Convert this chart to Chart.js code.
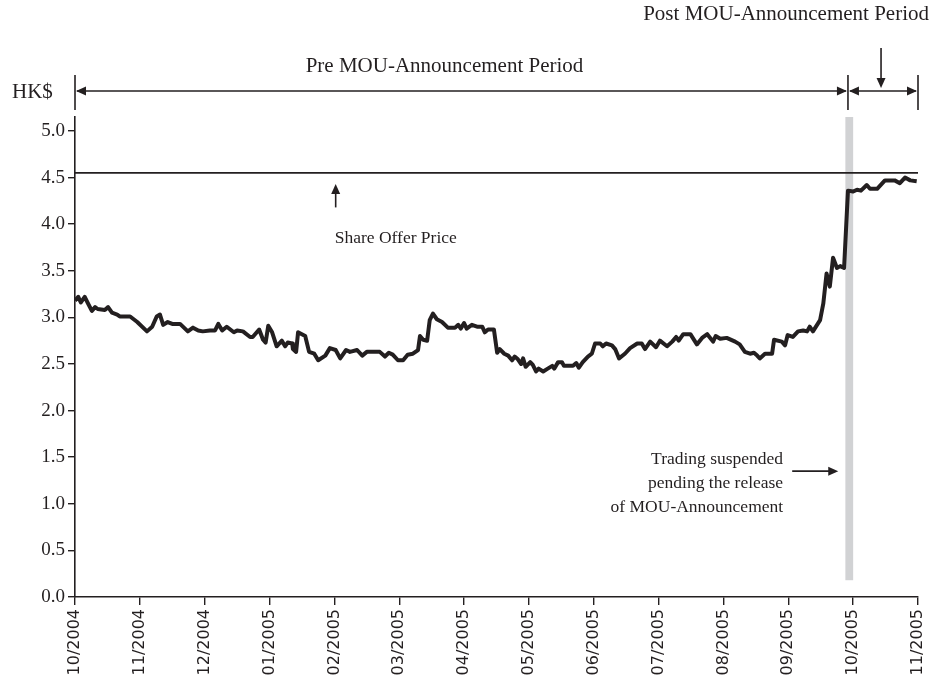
<!DOCTYPE html>
<html>
<head>
<meta charset="utf-8">
<script src="https://cdn.jsdelivr.net/npm/chart.js@4/dist/chart.umd.min.js"></script>
<style>
  body { margin: 0; background: #fff; }
  #wrap { width: 935px; height: 681px; position: relative; }
</style>
</head>
<body>
<div id="wrap"><canvas id="grafico"></canvas></div>
<script>
// month offsets since 10/2004 (0 = 10/2004, 13 = 11/2005)
const months = [
  0.00, 0.05, 0.09, 0.15, 0.20, 0.26, 0.31, 0.35, 0.46, 0.51, 0.57, 0.65, 0.69, 0.85, 0.96,
  1.11, 1.19, 1.26, 1.31, 1.36, 1.43, 1.50, 1.62, 1.74, 1.82, 1.90, 1.97,
  2.08, 2.16, 2.21, 2.27, 2.34, 2.45, 2.50, 2.59, 2.70, 2.74, 2.84, 2.90, 2.94, 2.98,
  3.04, 3.11, 3.19, 3.24, 3.28, 3.35, 3.36, 3.41, 3.44, 3.55, 3.61, 3.69, 3.75, 3.86, 3.93,
  4.02, 4.09, 4.18, 4.24, 4.35, 4.43, 4.50, 4.70, 4.78, 4.84, 4.90, 4.98,
  5.06, 5.13, 5.21, 5.29, 5.32, 5.37, 5.43, 5.47, 5.52, 5.58, 5.66, 5.75, 5.86, 5.91, 5.95,
  6.00, 6.04, 6.12, 6.20, 6.28, 6.32, 6.37, 6.46, 6.51, 6.55, 6.62, 6.68, 6.74, 6.78, 6.83, 6.88, 6.91, 6.95,
  7.02, 7.06, 7.11, 7.15, 7.22, 7.29, 7.36, 7.39, 7.45, 7.51, 7.54, 7.68, 7.73, 7.77, 7.83, 7.91, 7.97,
  8.02, 8.10, 8.14, 8.19, 8.28, 8.33, 8.39, 8.48, 8.56, 8.67, 8.74, 8.79, 8.87, 8.96,
  9.02, 9.13, 9.21, 9.27, 9.31, 9.38, 9.49, 9.59, 9.67, 9.75, 9.84, 9.88, 9.95,
  10.05, 10.18, 10.25, 10.33, 10.41, 10.47, 10.52, 10.56, 10.64, 10.75, 10.78, 10.90, 10.95, 10.99,
  11.07, 11.15, 11.23, 11.29, 11.33, 11.38, 11.49, 11.54, 11.59, 11.64, 11.69, 11.75, 11.80, 11.86, 11.92,
  12.00, 12.06, 12.12, 12.21, 12.26, 12.37, 12.49, 12.64, 12.72, 12.80, 12.88, 12.98
];

// share price, HK$
const prices = [
  3.18, 3.22, 3.16, 3.22, 3.15, 3.07, 3.11, 3.09, 3.08, 3.11, 3.05, 3.03, 3.01, 3.01, 2.95,
  2.85, 2.90, 3.01, 3.03, 2.92, 2.95, 2.93, 2.93, 2.85, 2.89, 2.86, 2.85,
  2.86, 2.86, 2.93, 2.86, 2.90, 2.84, 2.86, 2.85, 2.79, 2.79, 2.87, 2.76, 2.73, 2.91,
  2.84, 2.69, 2.75, 2.69, 2.73, 2.72, 2.66, 2.63, 2.84, 2.80, 2.63, 2.61, 2.54, 2.59, 2.67,
  2.65, 2.56, 2.65, 2.63, 2.65, 2.59, 2.63, 2.63, 2.58, 2.62, 2.60, 2.54,
  2.54, 2.60, 2.61, 2.65, 2.80, 2.76, 2.75, 2.97, 3.04, 2.98, 2.95, 2.89, 2.89, 2.92, 2.88,
  2.94, 2.88, 2.92, 2.90, 2.90, 2.84, 2.87, 2.87, 2.62, 2.66, 2.61, 2.59, 2.54, 2.58, 2.55, 2.50, 2.56, 2.47,
  2.52, 2.49, 2.42, 2.45, 2.42, 2.45, 2.48, 2.45, 2.52, 2.52, 2.48, 2.48, 2.51, 2.46, 2.52, 2.58, 2.61,
  2.72, 2.72, 2.69, 2.72, 2.70, 2.66, 2.56, 2.61, 2.67, 2.72, 2.72, 2.66, 2.74, 2.68,
  2.75, 2.69, 2.74, 2.79, 2.75, 2.82, 2.82, 2.71, 2.78, 2.82, 2.74, 2.80, 2.77,
  2.78, 2.74, 2.71, 2.63, 2.61, 2.62, 2.59, 2.56, 2.61, 2.61, 2.76, 2.74, 2.70, 2.81,
  2.79, 2.85, 2.86, 2.85, 2.90, 2.85, 2.97, 3.15, 3.47, 3.33, 3.64, 3.53, 3.55, 3.53, 4.36,
  4.35, 4.37, 4.36, 4.42, 4.38, 4.38, 4.47, 4.47, 4.44, 4.50, 4.47, 4.46
];

const offerPrice = 4.55;

const tickLabels = [
  "10/2004", "11/2004", "12/2004", "01/2005", "02/2005", "03/2005", "04/2005",
  "05/2005", "06/2005", "07/2005", "08/2005", "09/2005", "10/2005", "11/2005"
];

const INK = "#231f20";
const SERIF = "'Liberation Serif', 'Times New Roman', serif";

function flecha(ctx, x, y, ang) {
  // filled arrow head with its tip at (x, y), pointing along ang
  const largo = 10, ancho = 4.5;
  ctx.save();
  ctx.translate(x, y);
  ctx.rotate(ang);
  ctx.beginPath();
  ctx.moveTo(0, 0);
  ctx.lineTo(-largo, -ancho);
  ctx.lineTo(-largo, ancho);
  ctx.closePath();
  ctx.fill();
  ctx.restore();
}

function linea(ctx, x1, y1, x2, y2) {
  ctx.beginPath();
  ctx.moveTo(x1, y1);
  ctx.lineTo(x2, y2);
  ctx.stroke();
}

const anotaciones = {
  id: "anotaciones",

  beforeDatasetsDraw(chart) {
    const { ctx, scales: { x, y } } = chart;
    // trading suspension band
    const x1 = x.getPixelForValue(11.88);
    const x2 = x.getPixelForValue(12.0);
    const y1 = y.getPixelForValue(5.15);
    const y2 = y.getPixelForValue(0.18);
    ctx.save();
    ctx.fillStyle = "#d1d2d4";
    ctx.fillRect(x1, y1, x2 - x1, y2 - y1);
    ctx.restore();
  },

  afterDraw(chart) {
    const { ctx, scales: { x, y } } = chart;
    ctx.save();
    ctx.strokeStyle = INK;
    ctx.fillStyle = INK;
    ctx.lineWidth = 1.6;

    // period markers above the plot
    const xIni = x.getPixelForValue(0);
    const xMou = x.getPixelForValue(11.92);
    const xFin = x.getPixelForValue(13);
    const yTop = 75, yBot = 110, yArr = 91;
    [xIni, xMou, xFin].forEach((px) => linea(ctx, px, yTop, px, yBot));
    linea(ctx, xIni + 2, yArr, xMou - 2, yArr);
    flecha(ctx, xIni + 1, yArr, Math.PI);
    flecha(ctx, xMou - 1, yArr, 0);
    linea(ctx, xMou + 2, yArr, xFin - 2, yArr);
    flecha(ctx, xMou + 1, yArr, Math.PI);
    flecha(ctx, xFin - 1, yArr, 0);

    const xPost = x.getPixelForValue(12.43);
    linea(ctx, xPost, 48, xPost, 80);
    flecha(ctx, xPost, 88, Math.PI / 2);

    ctx.font = "21px " + SERIF;
    ctx.textBaseline = "middle";
    ctx.textAlign = "center";
    ctx.fillText("Pre MOU-Announcement Period", (xIni + xMou) / 2 - 17, 66);
    ctx.textAlign = "right";
    ctx.fillText("Post MOU-Announcement Period", 929, 14);
    ctx.textAlign = "left";
    ctx.fillText("HK$", 12, 92);

    // share offer price note
    const xOf = x.getPixelForValue(4.02);
    linea(ctx, xOf, y.getPixelForValue(4.18), xOf, y.getPixelForValue(4.35));
    flecha(ctx, xOf, y.getPixelForValue(4.43), -Math.PI / 2);
    ctx.font = "17.5px " + SERIF;
    ctx.textAlign = "left";
    ctx.fillText("Share Offer Price", xOf - 1, y.getPixelForValue(3.85));

    // trading suspended note
    const xTxt = x.getPixelForValue(10.92);
    ctx.textAlign = "right";
    ctx.fillText("Trading suspended", xTxt, y.getPixelForValue(1.48));
    ctx.fillText("pending the release", xTxt, y.getPixelForValue(1.22));
    ctx.fillText("of MOU-Announcement", xTxt, y.getPixelForValue(0.96));
    const yA = y.getPixelForValue(1.35);
    linea(ctx, x.getPixelForValue(11.06), yA, x.getPixelForValue(11.7), yA);
    flecha(ctx, x.getPixelForValue(11.77), yA, 0);

    ctx.restore();
  },
};

const ctx = document.getElementById("grafico");

const grafico = new Chart(ctx, {
  type: "line",

  data: {
    datasets: [
      {
        label: "Share price",
        data: months.map((m, i) => ({ x: m, y: prices[i] })),
        borderColor: INK,
        borderWidth: 4,
        borderJoinStyle: "round",
        pointRadius: 0,
        tension: 0,
      },
      {
        label: "Share Offer Price",
        data: [
          { x: 0, y: offerPrice },
          { x: 13, y: offerPrice },
        ],
        borderColor: INK,
        borderWidth: 1.6,
        pointRadius: 0,
      },
    ],
  },

  options: {
    responsive: true,
    maintainAspectRatio: false,
    animation: false,
    devicePixelRatio: 1,

    layout: {
      padding: { top: 117, right: 17, bottom: 0, left: 0 },
    },

    plugins: {
      legend: { display: false },
      tooltip: { enabled: false },
    },

    scales: {
      x: {
        type: "linear",
        min: 0,
        max: 13,
        afterFit: (scale) => {
          scale.height = 84;
          scale.paddingLeft = 0;
          scale.paddingRight = 0;
        },
        border: { display: true, color: INK, width: 1.6 },
        grid: {
          drawOnChartArea: false,
          drawTicks: true,
          tickLength: 8,
          color: INK,
          lineWidth: 1.4,
        },
        ticks: {
          stepSize: 1,
          autoSkip: false,
          minRotation: 90,
          maxRotation: 90,
          padding: 4,
          color: INK,
          font: { family: "'DejaVu Sans', sans-serif", size: 16 },
          callback: (v) => tickLabels[v] ?? "",
        },
      },

      y: {
        min: 0,
        max: 5.15,
        afterFit: (scale) => {
          scale.width = 75;
        },
        border: { display: true, color: INK, width: 1.6 },
        grid: {
          drawOnChartArea: false,
          drawTicks: true,
          tickLength: 7,
          color: INK,
          lineWidth: 1.4,
        },
        ticks: {
          stepSize: 0.5,
          includeBounds: false,
          padding: 3,
          color: INK,
          font: { family: SERIF, size: 19 },
          callback: (v) => v.toFixed(1),
        },
      },
    },
  },

  plugins: [anotaciones],
});
</script>
</body>
</html>
